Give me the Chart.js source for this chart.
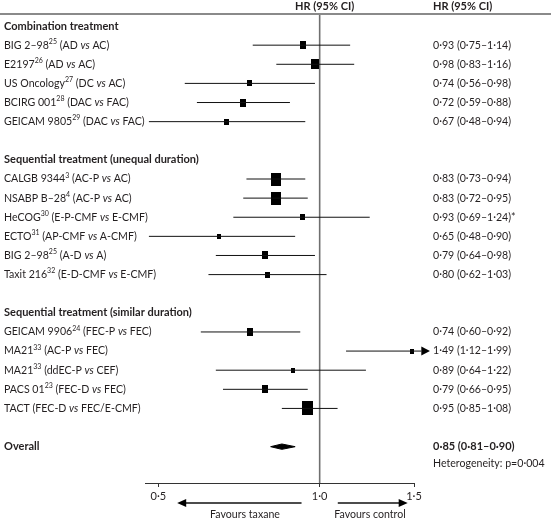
<!DOCTYPE html>
<html>
<head>
<meta charset="utf-8">
<script src="https://cdn.jsdelivr.net/npm/chart.js"></script>
<style>
  body { margin: 0; background: #fff; }
  canvas { display: block; }
</style>
</head>
<body>
<canvas id="forest" width="551" height="522"></canvas>
<script>
// groups of trials, in drawing order
const groupNames = [
  "Combination treatment",
  "Sequential treatment (unequal duration)",
  "Sequential treatment (similar duration)"
];
const groupSizes = [5, 6, 5];

const studies = ["BIG 2–98", "E2197", "US Oncology", "BCIRG 001", "GEICAM 9805",
  "CALGB 9344", "NSABP B–28", "HeCOG", "ECTO", "BIG 2–98", "Taxit 216",
  "GEICAM 9906", "MA21", "MA21", "PACS 01", "TACT"];
const refs = ["25", "26", "27", "28", "29", "3", "4", "30", "31", "25", "32", "24", "33", "33", "23", ""];
const taxaneArms = ["AD", "AD", "DC", "DAC", "DAC", "AC-P", "AC-P", "E-P-CMF", "AP-CMF", "A-D", "E-D-CMF",
  "FEC-P", "AC-P", "ddEC-P", "FEC-D", "FEC-D"];
const controlArms = ["AC", "AC", "AC", "FAC", "FAC", "AC", "AC", "E-CMF", "A-CMF", "A", "E-CMF",
  "FEC", "FEC", "CEF", "FEC", "FEC/E-CMF"];

const hr   = [0.93, 0.98, 0.74, 0.72, 0.67, 0.83, 0.83, 0.93, 0.65, 0.79, 0.80, 0.74, 1.49, 0.89, 0.79, 0.95];
const ciLo = [0.75, 0.83, 0.56, 0.59, 0.48, 0.73, 0.72, 0.69, 0.48, 0.64, 0.62, 0.60, 1.12, 0.64, 0.66, 0.85];
const ciHi = [1.14, 1.16, 0.98, 0.88, 0.94, 0.94, 0.95, 1.24, 0.90, 0.98, 1.03, 0.92, 1.99, 1.22, 0.95, 1.08];
const weights = [6, 8, 5, 6, 5, 10, 10, 5, 4, 6, 5, 6, 4, 4, 6, 11];
const notes = ["", "", "", "", "", "", "", "*", "", "", "", "", "", "", "", ""];

const overall = { hr: 0.85, lo: 0.81, hi: 0.90 };
const heterogeneityP = "0·004";

const xTicks = [0.5, 1.0, 1.5];
const xMin = 0.472, xMax = 1.5;

// ---- row positions (one unit per line, a blank line between groups)
const rowY = [];
const groupY = [];
let r = 0;
groupSizes.forEach(n => {
  groupY.push(r);
  r++;
  for (let i = 0; i < n; i++) rowY.push(r++);
  r++;
});
const overallY = r;

const fmt = v => v.toFixed(2).replace(".", "·");
const ink = "#231f20";
const FONT = "Lato";
const arrowBase = xMax * 1.032, arrowTip = xMax * 1.071;

function boxImage(w) {
  const h = Math.round(w * 1.25);
  const c = document.createElement("canvas");
  c.width = w; c.height = h;
  const g = c.getContext("2d");
  g.fillStyle = "#000";
  g.fillRect(0, 0, w, h);
  return c;
}
const boxes = weights.map(boxImage);

const datasets = [];
// confidence interval lines
hr.forEach((v, i) => {
  datasets.push({
    data: [{ x: ciLo[i], y: rowY[i] }, { x: Math.min(ciHi[i], arrowBase), y: rowY[i] }],
    showLine: true, borderColor: "#111", borderWidth: 1, pointRadius: 0, clip: false
  });
});
// study boxes
datasets.push({
  data: hr.map((v, i) => ({ x: v, y: rowY[i] })),
  pointStyle: ctx => boxes[ctx.dataIndex],
  clip: false
});
// line of no effect
datasets.push({
  data: [{ x: 1, y: -0.63 }, { x: 1, y: 23.9 }],
  showLine: true, borderColor: "#6f6f6f", borderWidth: 1.6, pointRadius: 0, clip: false
});
// overall diamond
const dh = 0.14;
datasets.push({
  data: [
    { x: overall.lo, y: overallY }, { x: overall.hr, y: overallY - dh },
    { x: overall.hi, y: overallY }, { x: overall.hr, y: overallY + dh },
    { x: overall.lo, y: overallY }
  ],
  showLine: true, fill: "shape", backgroundColor: "#000", borderColor: "#000",
  borderWidth: 1, pointRadius: 0, clip: false
});

function drawRich(g, parts, x, y) {
  parts.forEach(p => {
    if (!p.t) return;
    let size = 10.6, style = "", weight = "", dy = 0;
    if (p.s === "sup") { size = 7; dy = -3.5; }
    if (p.s === "it") style = "italic ";
    if (p.s === "b") { weight = "bold "; size = 11; }
    g.font = style + weight + size + "px " + FONT;
    g.fillText(p.t, x, y + dy);
    x += g.measureText(p.t).width;
  });
}

function arrow(g, x1, x2, y) {
  const dir = Math.sign(x2 - x1);
  g.beginPath();
  g.moveTo(x1, y);
  g.lineTo(x2 - dir * 7, y);
  g.lineWidth = 1.5;
  g.strokeStyle = "#111";
  g.stroke();
  g.beginPath();
  g.moveTo(x2, y);
  g.lineTo(x2 - dir * 9, y - 4);
  g.lineTo(x2 - dir * 9, y + 4);
  g.closePath();
  g.fillStyle = "#000";
  g.fill();
}

const textPlugin = {
  id: "forestText",
  afterDraw(chart) {
    const g = chart.ctx;
    const xs = chart.scales.x, ys = chart.scales.y;
    const top = chart.chartArea.top;
    g.save();
    // header rule
    g.strokeStyle = "#8a8a8a";
    g.lineWidth = 2;
    g.beginPath();
    g.moveTo(0, top); g.lineTo(chart.width, top);
    g.stroke();

    // arrowheads for intervals running past the axis
    g.fillStyle = "#000";
    hr.forEach((v, i) => {
      if (ciHi[i] <= xMax) return;
      const y = ys.getPixelForValue(rowY[i]);
      const b = xs.getPixelForValue(arrowBase), t = xs.getPixelForValue(arrowTip);
      g.beginPath();
      g.moveTo(t, y); g.lineTo(b, y - 4.5); g.lineTo(b, y + 4.5); g.closePath();
      g.fill();
    });

    g.fillStyle = ink;
    g.textBaseline = "middle";
    drawRich(g, [{ t: "HR (95% CI)", s: "b" }], 295, 6);
    drawRich(g, [{ t: "HR (95% CI)", s: "b" }], 433, 6);

    groupNames.forEach((name, k) => {
      drawRich(g, [{ t: name, s: "b" }], 4, ys.getPixelForValue(groupY[k]));
    });
    studies.forEach((s, i) => {
      const y = ys.getPixelForValue(rowY[i]);
      drawRich(g, [
        { t: s }, { t: refs[i], s: "sup" },
        { t: " (" + taxaneArms[i] + " " }, { t: "vs", s: "it" }, { t: " " + controlArms[i] + ")" }
      ], 4, y);
      drawRich(g, [{ t: fmt(hr[i]) + " (" + fmt(ciLo[i]) + "–" + fmt(ciHi[i]) + ")" + notes[i] }], 433, y);
    });
    const oy = ys.getPixelForValue(overallY);
    drawRich(g, [{ t: "Overall", s: "b" }], 4, oy);
    drawRich(g, [{ t: fmt(overall.hr) + " (" + fmt(overall.lo) + "–" + fmt(overall.hi) + ")", s: "b" }], 433, oy);
    drawRich(g, [{ t: "Heterogeneity: p=" + heterogeneityP }], 433, ys.getPixelForValue(overallY + 0.9));

    // favours arrows
    const ay = 503;
    arrow(g, xs.getPixelForValue(0.925), xs.getPixelForValue(0.542), ay);
    arrow(g, xs.getPixelForValue(1.081), xs.getPixelForValue(1.46), ay);
    g.font = "10.6px " + FONT;
    g.textAlign = "center";
    g.fillStyle = ink;
    g.fillText("Favours taxane", 245, 515);
    g.fillText("Favours control", 370, 515);
    g.restore();
  }
};

new Chart(document.getElementById("forest"), {
  type: "scatter",
  data: { datasets },
  options: {
    responsive: false,
    animation: false,
    layout: { padding: { left: 145, right: 137, top: 14, bottom: 0 } },
    plugins: { legend: { display: false }, tooltip: { enabled: false } },
    scales: {
      x: {
        type: "logarithmic",
        min: xMin, max: xMax,
        afterBuildTicks: s => { s.ticks = xTicks.map(v => ({ value: v })); },
        afterFit: s => { s.height = 39; },
        grid: { drawOnChartArea: false, drawTicks: true, tickLength: 4, color: "#333" },
        border: { display: true, color: "#333", width: 1 },
        ticks: {
          callback: v => Number(v).toFixed(1).replace(".", "·"),
          font: { family: FONT, size: 11 }, color: ink,
          padding: 3, autoSkip: false, maxRotation: 0
        }
      },
      y: { type: "linear", reverse: true, min: -0.63, max: 23.9, display: false }
    }
  },
  plugins: [textPlugin]
});
</script>
</body>
</html>
